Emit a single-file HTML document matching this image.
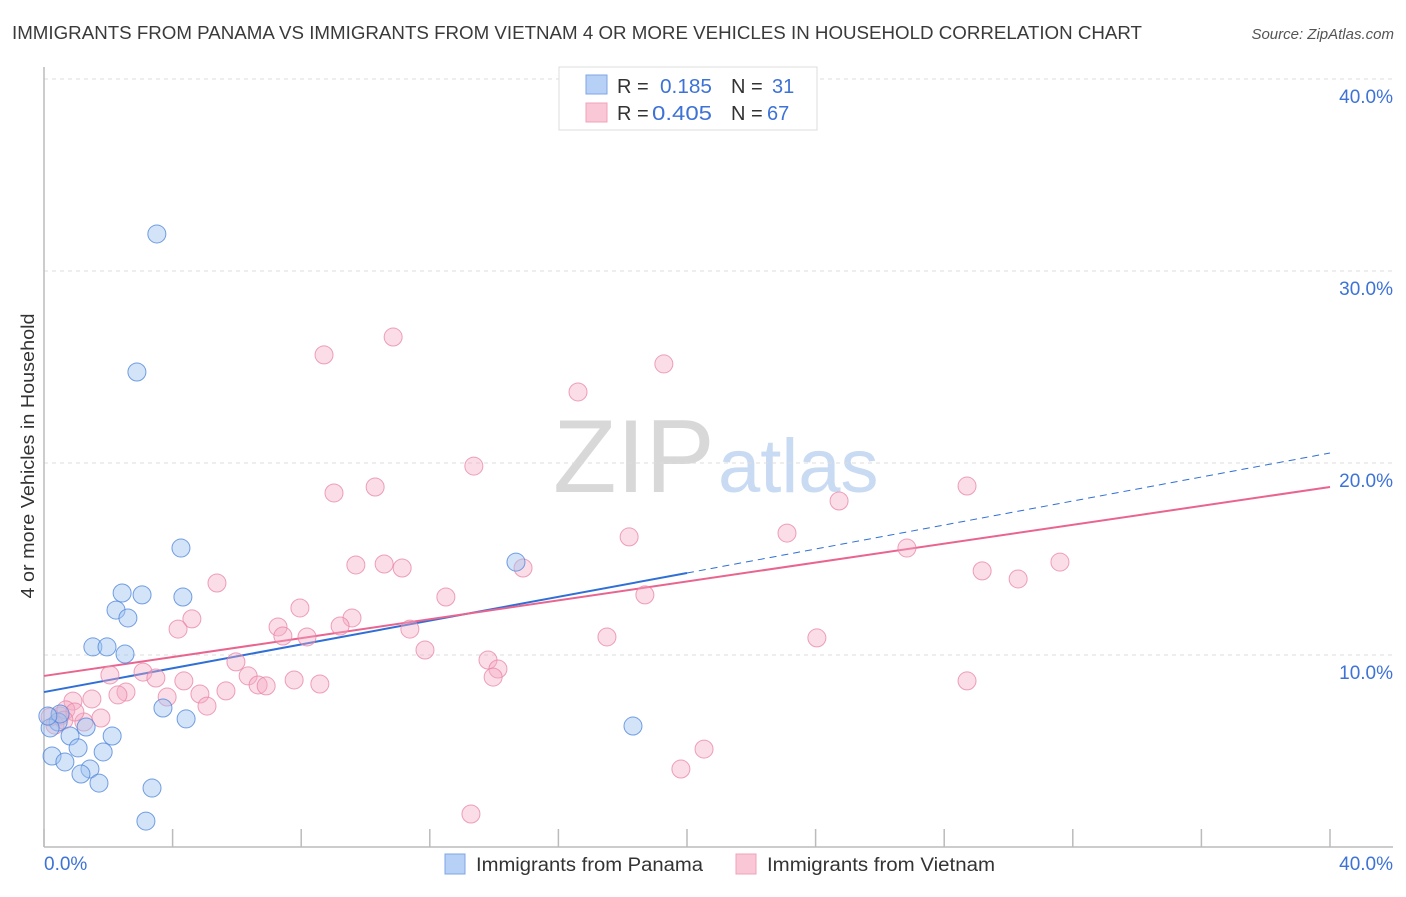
<!DOCTYPE html>
<html><head><meta charset="utf-8"><style>
body{margin:0;background:#fff;font-family:"Liberation Sans",sans-serif}
svg text{font-family:"Liberation Sans",sans-serif}
</style></head><body>
<svg id="chart" width="1406" height="892" viewBox="0 0 1406 892" xmlns="http://www.w3.org/2000/svg">
<text x="12" y="39" font-size="18" fill="#3a3a3a" textLength="1130" lengthAdjust="spacingAndGlyphs">IMMIGRANTS FROM PANAMA VS IMMIGRANTS FROM VIETNAM 4 OR MORE VEHICLES IN HOUSEHOLD CORRELATION CHART</text>
<text x="1394" y="39" font-size="15" fill="#555" font-style="italic" text-anchor="end">Source: ZipAtlas.com</text>
<g>
<text x="553" y="492" font-family="Liberation Serif,serif" font-size="104" fill="#d8d8d8">ZIP</text>
<text x="718" y="492" font-size="76" fill="#c9daf3">atlas</text>
</g>
<g id="grid"></g>
<g id="axes"></g>
<text transform="translate(34,456) rotate(-90)" font-size="18" fill="#333" text-anchor="middle" textLength="285" lengthAdjust="spacingAndGlyphs">4 or more Vehicles in Household</text>
<g id="lines"></g>
<g id="pts"></g>
<g>
<rect x="559" y="67" width="258" height="63" fill="#fff" stroke="#ddd"/>
<rect x="586" y="75" width="21" height="19" fill="#b7d0f5" stroke="#7fa6e6"/>
<rect x="586" y="103" width="21" height="19" fill="#f9c7d6" stroke="#f0a3bb"/>
<text x="617" y="93" font-size="20" fill="#333">R =</text>
<text x="660" y="93" font-size="20" fill="#3d72d6" textLength="52" lengthAdjust="spacingAndGlyphs">0.185</text>
<text x="731" y="93" font-size="20" fill="#333">N =</text>
<text x="772" y="93" font-size="20" fill="#3d72d6">31</text>
<text x="617" y="120" font-size="20" fill="#333">R =</text>
<text x="652" y="120" font-size="20" fill="#3d72d6" textLength="60" lengthAdjust="spacingAndGlyphs">0.405</text>
<text x="731" y="120" font-size="20" fill="#333">N =</text>
<text x="767" y="120" font-size="20" fill="#3d72d6">67</text>
</g>
<g>
<rect x="445" y="854" width="20" height="20" fill="#b7d0f5" stroke="#7fa6e6"/>
<text x="476" y="871" font-size="19" fill="#333" textLength="227" lengthAdjust="spacingAndGlyphs">Immigrants from Panama</text>
<rect x="736" y="854" width="20" height="20" fill="#f9c7d6" stroke="#f0a3bb"/>
<text x="767" y="871" font-size="19" fill="#333" textLength="228" lengthAdjust="spacingAndGlyphs">Immigrants from Vietnam</text>
</g>
</svg>
<script>
const panamaX=[3.51,2.89,4.26,2.43,3.05,4.32,2.24,2.61,1.52,1.96,2.52,14.68,18.32,3.70,4.42,2.12,0.81,1.06,1.84,1.31,0.44,0.25,0.65,1.43,1.15,1.71,3.36,3.17,0.19,0.50,0.12];
const panamaY=[31.93,24.74,15.57,13.23,13.13,13.02,12.34,11.93,10.42,10.42,10.05,14.84,6.30,7.24,6.67,5.78,5.78,5.16,4.95,6.25,6.51,4.74,4.43,4.06,3.80,3.33,3.07,1.35,6.20,6.93,6.82];
const vietnamX=[10.86,8.71,19.28,16.61,13.37,9.02,10.30,28.71,24.73,18.20,23.11,26.84,9.70,10.58,11.14,14.90,31.60,29.18,30.30,5.38,12.50,18.69,7.96,4.60,9.58,4.17,7.28,11.38,9.21,7.43,8.18,17.51,24.04,11.85,13.81,14.12,13.97,5.97,2.05,3.08,3.48,6.35,4.35,7.78,8.58,3.83,2.55,2.30,4.85,5.66,6.66,6.91,1.49,0.90,5.07,28.71,20.53,19.81,13.28,1.77,1.24,0.50,0.19,0.34,0.68,0.96,0.62];
const vietnamY=[26.56,25.63,25.16,23.70,19.84,18.44,18.75,18.80,18.02,16.15,16.35,15.57,14.69,14.74,14.53,14.53,14.84,14.38,13.96,13.75,13.02,13.13,12.45,11.88,11.93,11.35,11.46,11.35,11.51,10.99,10.94,10.94,10.89,10.26,9.74,9.27,8.85,9.64,8.96,9.11,8.80,8.91,8.65,8.70,8.49,7.81,8.07,7.92,7.97,8.13,8.44,8.39,7.71,7.60,7.34,8.65,5.10,4.06,1.72,6.72,6.51,6.82,6.77,6.35,7.14,7.03,6.61];
const panamaTrend=[8.07,14.27,20.52]; // values at x=0, 20, 40
const vietnamTrend=[8.91,18.75];      // values at x=0, 40
const yTicks=[10,20,30,40];
const yTickLabels=["10.0%","20.0%","30.0%","40.0%"];
const xTicks=[0,4,8,12,16,20,24,28,32,36,40];

const NS="http://www.w3.org/2000/svg";
const X0=44,X1=1330,Y0=847,Y1=79;
const sx=v=>X0+(X1-X0)*v/40;
const sy=v=>Y0-(Y0-Y1)*v/40;
function mk(tag,attrs,parent){const e=document.createElementNS(NS,tag);for(const k in attrs)e.setAttribute(k,attrs[k]);parent.appendChild(e);return e;}
const grid=document.getElementById('grid'),axes=document.getElementById('axes'),lines=document.getElementById('lines'),pts=document.getElementById('pts');
yTicks.forEach((t,i)=>{
  const l=mk('line',{x1:X0,x2:1393,y1:sy(t),y2:sy(t),stroke:'#ddd','stroke-dasharray':'4,4'},grid);
  
  
  const tx=mk('text',{x:1393,y:sy(t)+24,'font-size':19,fill:'#3d72d6','text-anchor':'end'},axes);
  tx.textContent=yTickLabels[i];
  
  
});
const ax=mk('line',{x1:X0,x2:X0,y1:67,y2:Y0,stroke:'#bbb','stroke-width':1.5},axes);


const bx=mk('line',{x1:X0,x2:1393,y1:Y0,y2:Y0,stroke:'#bbb','stroke-width':1.5},axes);


xTicks.forEach(t=>{
  const l=mk('line',{x1:sx(t),x2:sx(t),y1:829,y2:Y0,stroke:'#bbb','stroke-width':1.5},axes);
  
  
});
const xl0=mk('text',{x:44,y:870,'font-size':19,fill:'#3d72d6'},axes);xl0.textContent='0.0%';


const xl1=mk('text',{x:1393,y:870,'font-size':19,fill:'#3d72d6','text-anchor':'end'},axes);xl1.textContent='40.0%';



const bl=mk('line',{x1:sx(0),y1:sy(panamaTrend[0]),x2:sx(20),y2:sy(panamaTrend[1]),stroke:'#2f6fd6','stroke-width':2},lines);


const bd=mk('line',{x1:sx(20),y1:sy(panamaTrend[1]),x2:sx(40),y2:sy(panamaTrend[2]),stroke:'#2f6fd6','stroke-width':1,'stroke-dasharray':'7,5'},lines);


const pl=mk('line',{x1:sx(0),y1:sy(vietnamTrend[0]),x2:sx(40),y2:sy(vietnamTrend[1]),stroke:'#e9648e','stroke-width':2},lines);



vietnamX.forEach((x,i)=>{
  const c=mk('circle',{cx:sx(x),cy:sy(vietnamY[i]),r:9,fill:'rgba(245,170,195,0.4)',stroke:'rgba(232,130,165,0.75)','stroke-width':1},pts);
  
  
});
panamaX.forEach((x,i)=>{
  const c=mk('circle',{cx:sx(x),cy:sy(panamaY[i]),r:9,fill:'rgba(160,195,240,0.45)',stroke:'rgba(80,135,220,0.8)','stroke-width':1},pts);
  
  
});
</script>
</body></html>
